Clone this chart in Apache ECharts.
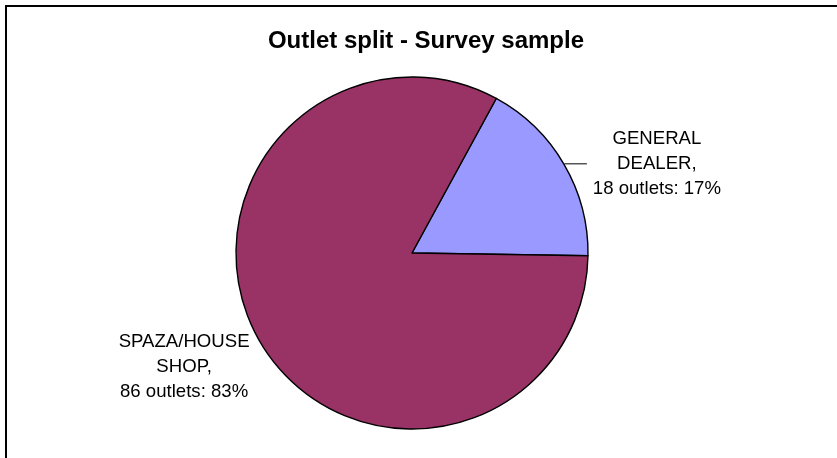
<!DOCTYPE html>
<html>
<head>
<meta charset="utf-8">
<script src="https://cdn.jsdelivr.net/npm/echarts@6/dist/echarts.min.js"></script>
<style>
html,body{margin:0;padding:0;background:#fff;}
#c{width:837px;height:458px;}
</style>
</head>
<body>
<div id="c"></div>
<script>
const titleText = 'Outlet split - Survey sample';
const categories = ['GENERAL DEALER', 'SPAZA/HOUSE SHOP'];
const labelLines = [['GENERAL', 'DEALER,'], ['SPAZA/HOUSE', 'SHOP,']];
const outlets = [18, 86];
const percents = [17, 83];
const colors = ['#9999FF', '#993366'];

const chart = echarts.init(document.getElementById('c'), null, {renderer: 'canvas'});

const data = categories.map((name, i) => ({
  name: name,
  value: outlets[i],
  itemStyle: {color: colors[i]},
  labelLine: i === 1 ? {show: false, length: 1, length2: 5} : {show: true, length: 1, length2: 22}
}));

chart.setOption({
  animation: false,
  backgroundColor: '#ffffff',
  title: {
    text: titleText,
    left: 421,
    textAlign: 'center',
    top: 24,
    textStyle: {fontFamily: 'Liberation Sans, Arial, sans-serif', fontSize: 24, fontWeight: 'bold', color: '#000'}
  },
  graphic: [{
    type: 'rect',
    shape: {x: 6, y: 6, width: 840, height: 470},
    style: {fill: 'none', stroke: '#000', lineWidth: 2},
    silent: true
  }],
  series: [{
    type: 'pie',
    center: [412, 253],
    radius: [0, 176],
    startAngle: 61.4,
    clockwise: true,
    avoidLabelOverlap: false,
    data: data,
    itemStyle: {borderColor: '#000', borderWidth: 1.4},
    label: {
      show: true,
      position: 'outside',
      distanceToLabelLine: 4,
      formatter: function (p) {
        const i = p.dataIndex;
        return '{a|' + labelLines[i][0] + '}\n{a|' + labelLines[i][1] + '}\n{a|' + outlets[i] + ' outlets: ' + percents[i] + '%}';
      },
      rich: {
        a: {width: 132, align: 'center', fontFamily: 'Liberation Sans, Arial, sans-serif', fontSize: 18.6, lineHeight: 25, color: '#000'}
      }
    },
    labelLine: {
      lineStyle: {color: '#000', width: 1},
      smooth: false
    },
    labelLayout: function (params) {
      if (params.dataIndex === 1) {
        return {dy: 25};
      }
      return {};
    },
    emphasis: {disabled: true}
  }]
});
</script>
</body>
</html>
